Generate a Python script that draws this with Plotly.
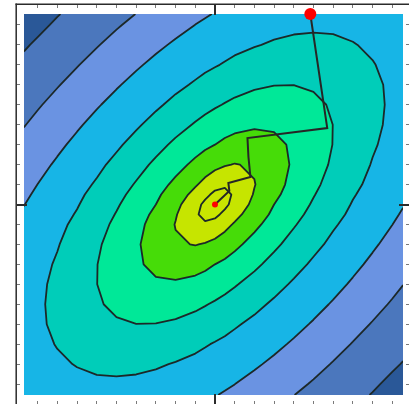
import numpy as np
import plotly.graph_objects as go

# Coarse sampling grid of the objective (0.1 spacing, a little denser at the centre)
x_nodes = sorted([-0.97] + [round(-0.9 + 0.1 * i, 2) for i in range(19)] + [-0.05, 0.05, 0.955])
y_nodes = sorted([-0.955] + [round(-0.9 + 0.1 * i, 2) for i in range(19)] + [-0.05, 0.05, 0.955])

# Quadratic bowl rotated 45 degrees: weights along the long and short diagonals
w_long = 0.4
w_short = 1.6

# Contour levels of the elliptical radius, from the innermost loop outward
levels_q = [0.065, 0.165, 0.30, 0.48, 0.684, 0.965, 1.24, 1.56]

# Fill colours, innermost band first
band_colors = ["#c9e600", "#c6e500", "#46dc08", "#00e898", "#00cdb9",
               "#17b5e6", "#6a93e2", "#4b77bd", "#2a5898"]

# Optimiser iterates, from the start point down to the minimum
path_x = [0.484, 0.57, 0.165, 0.17, 0.18, 0.12, 0.068, 0.073, 0.038, 0.0]
path_y = [0.955, 0.383, 0.333, 0.238, 0.138, 0.123, 0.108, 0.068, 0.033, 0.0]

X, Y = np.meshgrid(np.array(x_nodes), np.array(y_nodes))
U = (X + Y) / np.sqrt(2)
V = (X - Y) / np.sqrt(2)
Q = np.sqrt(w_long * U ** 2 + w_short * V ** 2)

# Map the radius onto band indices so the levels become evenly spaced
q_breaks = [0.0] + levels_q + [max(Q.max(), levels_q[-1]) + 0.1]
Z = np.interp(Q, q_breaks, np.arange(len(q_breaks)))

n = len(band_colors) - 1
colorscale = [[k / n, c] for k, c in enumerate(band_colors)]

fig = go.Figure()
fig.add_trace(go.Contour(
    x=x_nodes, y=y_nodes, z=Z,
    contours=dict(start=1, end=len(levels_q), size=1, coloring="fill", showlines=True),
    line=dict(color="#1c2828", width=1.8, smoothing=0),
    colorscale=colorscale, showscale=False, hoverinfo="skip",
))
fig.add_trace(go.Scatter(
    x=path_x, y=path_y, mode="lines",
    line=dict(color="#262626", width=2), hoverinfo="skip",
))
fig.add_trace(go.Scatter(
    x=[path_x[0]], y=[path_y[0]], mode="markers",
    marker=dict(color="#ff0000", size=12), hoverinfo="skip",
))
fig.add_trace(go.Scatter(
    x=[path_x[-1]], y=[path_y[-1]], mode="markers",
    marker=dict(color="#ff0000", size=6), hoverinfo="skip",
))

axis_common = dict(
    showgrid=False, zeroline=False, showline=False,
    mirror="ticks", ticks="inside", ticklen=10, tickwidth=1.5, tickcolor="#2b2b2b",
    tickvals=[0], showticklabels=False,
    minor=dict(ticks="inside", ticklen=3, tickwidth=1, tickcolor="#7a7a7a", dtick=0.1, tick0=0),
)

plot_w = 409 - 17
plot_h = 404 - 5
frame = dict(color="#2b2b2b", width=1.5)
fig.update_layout(
    width=409, height=404,
    margin=dict(l=17, r=0, t=5, b=0),
    paper_bgcolor="white", plot_bgcolor="white",
    showlegend=False,
    xaxis=dict(range=[-1.005, 0.985], **axis_common),
    yaxis=dict(range=[-1.0, 1.0], **axis_common),
    shapes=[
        # left and top edges of the axes box
        dict(type="line", xref="paper", yref="paper", x0=-0.8 / plot_w, x1=-0.8 / plot_w,
             y0=0, y1=1 + 1.5 / plot_h, line=frame),
        dict(type="line", xref="paper", yref="paper", x0=-1.5 / plot_w, x1=1,
             y0=1 + 0.8 / plot_h, y1=1 + 0.8 / plot_h, line=frame),
    ],
)
fig.write_html("out.html")
